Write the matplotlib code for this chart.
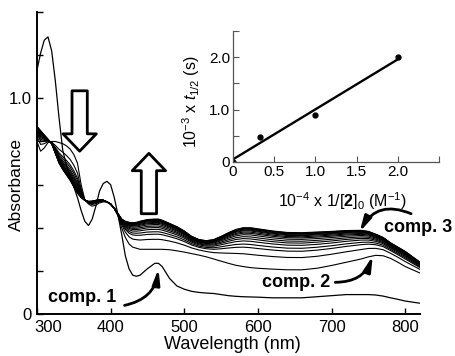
import numpy as np
import matplotlib
matplotlib.use("Agg")
import matplotlib.pyplot as plt
from matplotlib.patches import ArrowStyle
from matplotlib.transforms import ScaledTranslation

plt.rcParams['font.family'] = ['Liberation Sans', 'DejaVu Sans']
plt.rcParams['mathtext.fontset'] = 'custom'
plt.rcParams['mathtext.rm'] = 'Liberation Sans'
plt.rcParams['mathtext.it'] = 'Liberation Sans:italic'
plt.rcParams['mathtext.bf'] = 'Liberation Sans:bold'

# ---------------- data ----------------
wavelength = [300, 305, 310, 315, 320, 325, 330, 335, 340, 345, 350, 355, 360, 365, 370,
              375, 380, 385, 390, 395, 400, 405, 410, 415, 420, 425, 430, 435, 440, 450,
              460, 465, 470, 480, 490, 500, 510, 520, 530, 540, 550, 560, 570, 580, 590,
              600, 620, 640, 660, 680, 700, 720, 740, 750, 760, 770, 780, 790, 800, 810, 820]

comp1 = [1.13, 1.21, 1.27, 1.285, 1.22, 1.08, 0.91, 0.76, 0.69, 0.64, 0.59, 0.54, 0.48, 0.43, 0.41,
         0.44, 0.50, 0.57, 0.605, 0.615, 0.60, 0.54, 0.46, 0.37, 0.27, 0.21, 0.18, 0.175, 0.18, 0.21,
         0.235, 0.235, 0.22, 0.165, 0.13, 0.115, 0.105, 0.10, 0.097, 0.095, 0.09, 0.085, 0.082, 0.08, 0.079,
         0.078, 0.075, 0.075, 0.075, 0.08, 0.085, 0.09, 0.09, 0.09, 0.088, 0.083, 0.075, 0.068, 0.06, 0.055, 0.05]

comp2 = [0.80, 0.755, 0.77, 0.795, 0.80, 0.80, 0.795, 0.79, 0.78, 0.765, 0.74, 0.70, 0.60, 0.53, 0.51,
         0.50, 0.505, 0.515, 0.52, 0.52, 0.51, 0.49, 0.455, 0.40, 0.355, 0.325, 0.31, 0.305, 0.30, 0.30,
         0.30, 0.30, 0.30, 0.298, 0.293, 0.287, 0.28, 0.273, 0.265, 0.255, 0.245, 0.235, 0.226, 0.22, 0.215,
         0.212, 0.208, 0.205, 0.205, 0.212, 0.225, 0.24, 0.255, 0.265, 0.272, 0.27, 0.258, 0.24, 0.22, 0.205, 0.19]

comp3 = [0.87, 0.85, 0.83, 0.81, 0.79, 0.745, 0.70, 0.67, 0.645, 0.62, 0.59, 0.56, 0.54, 0.527, 0.522,
         0.523, 0.527, 0.53, 0.528, 0.52, 0.51, 0.49, 0.465, 0.44, 0.43, 0.425, 0.423, 0.425, 0.43, 0.438,
         0.44, 0.44, 0.435, 0.42, 0.405, 0.385, 0.36, 0.345, 0.34, 0.345, 0.36, 0.377, 0.392, 0.40, 0.40,
         0.395, 0.385, 0.378, 0.377, 0.38, 0.383, 0.387, 0.388, 0.383, 0.37, 0.355, 0.33, 0.31, 0.29, 0.265, 0.24]

# fraction of conversion comp. 2 -> comp. 3 for each recorded spectrum
conversion = [0.0, 0.33, 0.50, 0.58, 0.66, 0.72, 0.77, 0.82, 0.86, 0.89, 0.92, 0.94, 0.96, 0.975, 0.99, 1.0]

# inset data
inv_conc = [0.0, 0.33, 1.0, 2.0]
t_half = [0.0, 0.48, 0.89, 2.0]
fit_x = [0.0, 2.0]
fit_y = [0.05, 1.96]

# ---------------- figure ----------------
fig = plt.figure(figsize=(4.56, 3.56), dpi=100)
ax = fig.add_axes([0.081, 0.118, 0.840, 0.848])

wl = np.array(wavelength)
c2 = np.array(comp2)
c3 = np.array(comp3)
ax.plot(wl, comp1, color='black', lw=0.9)
for f in conversion:
    ax.plot(wl, c2 + f * (c3 - c2), color='black', lw=0.8)

ax.set_xlim(300, 820)
ax.set_ylim(0, 1.4)
ax.set_xticks([300, 400, 500, 600, 700, 800])
ax.set_yticks([0, 0.2, 0.4, 0.6, 0.8, 1.0, 1.2, 1.4])
ax.set_yticklabels(['0', '', '', '', '', '1.0', '', ''])
ax.tick_params(direction='in', length=4, width=1, labelsize=12, pad=4)
first = ax.get_xticklabels()[0]
first.set_ha('left')
first.set_transform(first.get_transform() + ScaledTranslation(-3 / 100, 0, fig.dpi_scale_trans))
for s in ['top', 'right']:
    ax.spines[s].set_visible(False)
for s in ['left', 'bottom']:
    ax.spines[s].set_linewidth(1.4)
ax.set_xlabel('Wavelength (nm)', fontsize=13)
ax.set_ylabel('Absorbance', fontsize=12.5)
ax.xaxis.set_label_coords(0.51, -0.072)
ax.yaxis.set_label_coords(-0.034, 0.43)

# block arrows
blk = ArrowStyle('simple', head_length=12.5, head_width=24, tail_width=11)
ax.annotate('', xy=(358, 0.755), xytext=(358, 1.035),
            arrowprops=dict(arrowstyle=blk, fc='white', ec='black', lw=2,
                            shrinkA=0, shrinkB=0, mutation_scale=1))
ax.annotate('', xy=(452, 0.745), xytext=(452, 0.465),
            arrowprops=dict(arrowstyle=blk, fc='white', ec='black', lw=2,
                            shrinkA=0, shrinkB=0, mutation_scale=1))

# comp labels
ah = dict(arrowstyle='-|>,head_length=0.9,head_width=0.22', color='black', lw=2,
          shrinkA=0, shrinkB=0)
ax.text(361, 0.075, 'comp. 1', fontsize=13, fontweight='bold', ha='center', va='center')
ax.annotate('', xy=(465, 0.21), xytext=(419, 0.04),
            arrowprops=dict(connectionstyle='arc3,rad=0.35', **ah))
ax.text(652, 0.145, 'comp. 2', fontsize=13, fontweight='bold', ha='center', va='center')
ax.annotate('', xy=(756, 0.27), xytext=(705, 0.147),
            arrowprops=dict(connectionstyle='arc3,rad=0.35', **ah))
ax.text(818, 0.40, 'comp. 3', fontsize=13, fontweight='bold', ha='center', va='center',
        clip_on=False)
ax.annotate('', xy=(738, 0.38), xytext=(808, 0.465),
            arrowprops=dict(connectionstyle='arc3,rad=0.45', **ah))

# ---------------- inset ----------------
ins = fig.add_axes([0.511, 0.545, 0.452, 0.368])
ins.plot(fit_x, fit_y, color='black', lw=1.7)
ins.plot(inv_conc, t_half, 'o', color='black', ms=3.5)
ins.set_xlim(0, 2.5)
ins.set_ylim(0, 2.5)
ins.set_xticks([0, 0.5, 1.0, 1.5, 2.0, 2.5])
ins.set_xticklabels(['0', '0.5', '1.0', '1.5', '2.0', ''])
ins.set_yticks([0, 0.5, 1.0, 1.5, 2.0, 2.5])
ins.set_yticklabels(['0', '', '1.0', '', '2.0', ''])
ins.tick_params(direction='in', length=4, width=0.8, labelsize=11, pad=2, colors='#555555',
                labelcolor='black')
for s in ['top', 'right']:
    ins.spines[s].set_visible(False)
for s in ['left', 'bottom']:
    ins.spines[s].set_color('#555555')
    ins.spines[s].set_linewidth(0.9)
ins.patch.set_alpha(0)
ins.set_xlabel(r'10$^{-4}$ x 1/[$\mathbf{2}$]$_{0}$ (M$^{-1}$)', fontsize=11.5)
ins.set_ylabel(r'10$^{-3}$ x $\mathit{t}_{1/2}$ (s)', fontsize=11.5)
ins.xaxis.set_label_coords(0.53, -0.215)
ins.yaxis.set_label_coords(-0.15, 0.46)

fig.savefig('out.png', dpi=100)
